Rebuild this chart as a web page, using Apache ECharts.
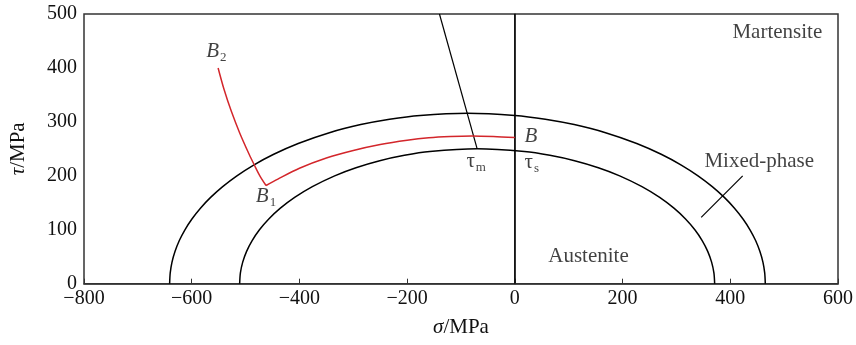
<!DOCTYPE html>
<html>
<head>
<meta charset="utf-8">
<script src="https://cdn.jsdelivr.net/npm/echarts@6/dist/echarts.min.js"></script>
<style>html,body{margin:0;padding:0;background:#fff}#c{width:856px;height:345px}</style>
</head>
<body>
<div id="c"></div>
<script>
// ---- data ----
const xTicks = [-800, -600, -400, -200, 0, 200, 400, 600];
const xTickLabels = ['\u2212800', '\u2212600', '\u2212400', '\u2212200', '0', '200', '400', '600'];
const yTicks = [0, 100, 200, 300, 400, 500];
const yTickLabels = ['0', '100', '200', '300', '400', '500'];

// outer boundary (martensite / mixed-phase)
const outerBoundary = [
  [-641, 0], [-639.9, 20], [-636.6, 40], [-630.9, 60], [-623, 80], [-612.6, 100], [-599.6, 120],
  [-583.8, 140], [-564.9, 160], [-542.5, 180], [-516.1, 200], [-485, 220], [-447.7, 240],
  [-402.3, 260], [-344.4, 280], [-286.2, 295], [-232.6, 305], [-175.8, 312], [-88, 316],
  [0, 312], [56.6, 305], [110.2, 295], [168.4, 280], [226.3, 260], [271.7, 240], [309, 220],
  [340.1, 200], [366.5, 180], [388.9, 160], [407.8, 140], [423.6, 120], [436.6, 100],
  [447, 80], [454.9, 60], [460.6, 40], [463.9, 20], [465, 0]
];
// inner boundary (mixed-phase / austenite)
const innerBoundary = [
  [-511, 0], [-509.6, 20], [-505.3, 40], [-498.1, 60], [-487.8, 80], [-474.2, 100], [-456.9, 120],
  [-435.4, 140], [-408.9, 160], [-376, 180], [-334.6, 200], [-295, 215], [-250.9, 228],
  [-205, 238], [-157.8, 245], [-70, 250], [17.8, 245], [65, 238], [110.9, 228], [155, 215],
  [194.6, 200], [236, 180], [268.9, 160], [295.4, 140], [316.9, 120], [334.2, 100],
  [347.8, 80], [358.1, 60], [365.3, 40], [369.6, 20], [371, 0]
];
// loading path B -> B1
const pathBtoB1 = [
  [0, 271], [-40, 273], [-80, 274], [-120, 273], [-160, 270.6], [-200, 266], [-250, 258],
  [-300, 247], [-350, 233], [-400, 214], [-440, 194], [-462, 182]
];
// loading path B1 -> B2
const pathB1toB2 = [
  [-462, 182], [-473.5, 200], [-483.7, 220], [-493.4, 240], [-511.1, 280],
  [-526.6, 320], [-539.9, 360], [-551, 400]
];
const tauMLine = [[-70, 250], [-140, 500]];
const zeroStressLine = [[0, 0], [0, 500]];
const mixedLeader = [[346, 123], [423, 200]];

// annotations: [x, y, text]
const annotations = [
  [-573, 430, '{i|B}{sub|2}'],
  [-481, 161, '{i|B}{sub|1}'],
  [18, 272, '{i|B}'],
  [-90, 226, '{n|\u03c4}{sub|m}'],
  [18, 224, '{n|\u03c4}{sub|s}'],
  [404, 465, '{n|Martensite}'],
  [352, 227, '{n|Mixed-phase}'],
  [62, 50, '{n|Austenite}']
];

// ---- chart ----
const FONT = '"Liberation Serif","Times New Roman",serif';
const TXT = '#111';
const chart = echarts.init(document.getElementById('c'), null, {renderer: 'canvas'});

function lineSeries(data, color, width, smooth) {
  return {
    type: 'line', data: data, showSymbol: false, symbol: 'none', smooth: smooth || false,
    lineStyle: {color: color, width: width}, silent: true, animation: false, z: 3
  };
}

const rich = {
  i: {fontFamily: FONT, fontStyle: 'italic', fontSize: 21, color: TXT},
  n: {fontFamily: FONT, fontSize: 21, color: TXT},
  sub: {fontFamily: FONT, fontSize: 13, color: TXT, verticalAlign: 'bottom', padding: [12, 0, 0, 1]}
};

const option = {
  animation: false,
  backgroundColor: '#fff',
  grid: {left: 83, right: 17.5, top: 14, bottom: 61.3, show: true, borderColor: '#333', borderWidth: 1.5},
  xAxis: {
    type: 'value', min: -800, max: 600, interval: 200,
    name: '{i|\u03c3}{n|/MPa}', nameLocation: 'middle', nameGap: 33,
    nameTextStyle: {rich: rich},
    axisLine: {show: true, onZero: false, lineStyle: {color: '#333', width: 1.5}},
    axisTick: {show: true, inside: true, length: 5, lineStyle: {color: '#333', width: 1}},
    splitLine: {show: false},
    axisLabel: {
      fontFamily: FONT, fontSize: 20, color: TXT, margin: 5,
      formatter: function (v) { const k = xTicks.indexOf(v); return k >= 0 ? xTickLabels[k] : ''; }
    }
  },
  yAxis: {
    type: 'value', min: 0, max: 500, interval: 100,
    name: '{i|\u03c4}{n|/MPa}', nameLocation: 'middle', nameGap: 55, nameRotate: 90,
    nameTextStyle: {rich: rich},
    axisLine: {show: true, lineStyle: {color: '#333', width: 1.5}},
    axisTick: {show: false},
    splitLine: {show: false},
    axisLabel: {
      fontFamily: FONT, fontSize: 20, color: TXT, margin: 7,
      formatter: function (v) { const k = yTicks.indexOf(v); return k >= 0 ? yTickLabels[k] : ''; }
    }
  },
  series: [
    lineSeries(outerBoundary, '#000', 1.5, 0.3),
    lineSeries(innerBoundary, '#000', 1.5, 0.3),
    lineSeries(zeroStressLine, '#000', 1.3),
    lineSeries(tauMLine, '#000', 1.2),
    lineSeries(mixedLeader, '#000', 1.2),
    lineSeries(pathBtoB1, '#d3262b', 1.5, 0.3),
    lineSeries(pathB1toB2, '#d3262b', 1.5, 0.3),
    {
      type: 'scatter', symbolSize: 0, silent: true, animation: false, z: 5,
      data: annotations.map(a => ({value: [a[0], a[1]], text: a[2]})),
      label: {
        show: true, position: 'inside', align: 'left', verticalAlign: 'middle',
        formatter: p => p.data.text, rich: rich
      }
    }
  ]
};
chart.setOption(option);
</script>
</body>
</html>
